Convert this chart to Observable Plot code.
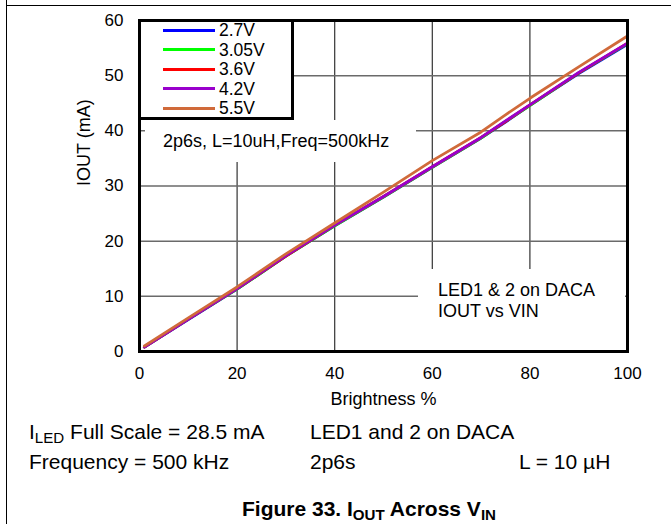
<!DOCTYPE html>
<html>
<head>
<meta charset="utf-8">
<script src="https://cdn.jsdelivr.net/npm/d3@7"></script>
<script src="https://cdn.jsdelivr.net/npm/@observablehq/plot@0.6"></script>
<style>
  html, body { margin: 0; padding: 0; background: #fff; }
  body { font-family: "Liberation Sans", Arial, sans-serif; color: #000; }
  #wrap { position: relative; width: 671px; height: 524px; overflow: hidden; }
  #chart { position: absolute; left: 0; top: 0; }
  .abs { position: absolute; white-space: nowrap; }
  .mask { position: absolute; background: #fff; }
  sub { font-size: 72%; vertical-align: -0.28em; line-height: 0; }
</style>
</head>
<body>
<div id="wrap">
  <div class="abs" style="left:5.75px;top:0;width:1.5px;height:524px;background:#000"></div>
  <div class="abs" style="left:6px;top:4.75px;width:665px;height:1.5px;background:#000"></div>
  <div id="chart"></div>
</div>
<script>
// ---- data ----
const brightness = [1, 10, 20, 30, 40, 50, 60, 70, 75, 80, 90, 100];
const seriesNames = ["2.7V", "3.05V", "3.6V", "4.2V", "5.5V"];
const seriesColors = ["#0000ff", "#00ff00", "#ff0000", "#9900cc", "#d06a3a"];
const iout_2_7V  = [0.8, 5.8, 11.3, 17.3, 22.8, 28.0, 33.4, 38.7, 41.6, 44.6, 50.4, 55.7];
const iout_3_05V = [0.8, 5.9, 11.3, 17.3, 22.8, 28.0, 33.4, 38.7, 41.7, 44.6, 50.5, 55.8];
const iout_3_6V  = [0.8, 5.9, 11.4, 17.3, 22.9, 28.1, 33.5, 38.8, 41.7, 44.7, 50.5, 55.9];
const iout_4_2V  = [0.8, 5.9, 11.4, 17.4, 22.9, 28.1, 33.5, 38.8, 41.8, 44.7, 50.6, 55.9];
const iout_5_5V  = [1.0, 6.1, 11.7, 17.7, 23.3, 28.9, 34.6, 39.8, 42.9, 45.9, 51.6, 57.2];
const xTicks = [0, 20, 40, 60, 80, 100];
const yTicks = [0, 10, 20, 30, 40, 50, 60];
const xLabel = "Brightness %";
const yLabel = "IOUT (mA)";
const note1 = "2p6s, L=10uH,Freq=500kHz";
const note2 = ["LED1 & 2 on DACA", "IOUT vs VIN"];

const seriesValues = [iout_2_7V, iout_3_05V, iout_3_6V, iout_4_2V, iout_5_5V];
const rows = [];
seriesNames.forEach((s, k) => {
  brightness.forEach((b, i) => rows.push({series: s, b, v: seriesValues[k][i]}));
});

const font = '"Liberation Sans", Arial, sans-serif';

const plot = Plot.plot({
  width: 671,
  height: 418,
  marginLeft: 139,
  marginRight: 44,
  marginTop: 20,
  marginBottom: 67,
  style: {fontFamily: font, fontSize: "17px", background: "transparent", color: "#000"},
  x: {domain: [0, 100], ticks: xTicks, tickSize: 0, tickPadding: 15, label: null},
  y: {domain: [0, 60], ticks: yTicks, tickSize: 0, tickPadding: 16, label: null},
  color: {domain: seriesNames, range: seriesColors},
  marks: [
    Plot.ruleX(xTicks.slice(1, -1), {stroke: "#333", strokeWidth: 1.2}),
    Plot.ruleY(yTicks.slice(1, -1), {stroke: "#6a6a6a", strokeWidth: 1.5}),
    Plot.line(rows, {x: "b", y: "v", z: "series", stroke: "series", strokeWidth: 2.8}),
    Plot.frame({stroke: "#000", strokeWidth: 3}),
    Plot.text([yLabel], {text: d => d, frameAnchor: "left", rotate: -90, dx: -55, fontSize: 18}),
    Plot.text([xLabel], {text: d => d, frameAnchor: "bottom", dy: 53, fontSize: 18})
  ]
});
const wrap = document.getElementById("wrap");
document.getElementById("chart").appendChild(plot);

function add(html, style, cls = "abs") {
  const d = document.createElement("div");
  d.className = cls;
  d.setAttribute("style", style);
  d.innerHTML = html;
  wrap.appendChild(d);
  return d;
}

// masks that break the gridlines behind the annotations
add("", "left:145px;top:120px;width:271px;height:41.5px", "mask");
add("", "left:418px;top:268.5px;width:207px;height:81px", "mask");

// annotations
add(note1, "left:163px;top:132px;font-size:18px;line-height:18px");
add(note2[0], "left:438px;top:281px;font-size:18px;line-height:18px");
add(note2[1], "left:438px;top:301.5px;font-size:18px;line-height:18px");

// legend
add("", "left:137.5px;top:18.5px;width:156px;height:101px;border:3px solid #000;box-sizing:border-box;background:#fff");
const rowY = [30, 49.6, 69.2, 88.8, 108.4];
seriesNames.forEach((s, i) => {
  add("", `left:163px;top:${rowY[i] - 1.5}px;width:52px;height:3px;background:${seriesColors[i]}`);
  add(s, `left:219px;top:${rowY[i] - 9}px;font-size:17.5px;line-height:18px`);
});

// caption lines under the chart
add("I<sub>LED</sub> Full Scale = 28.5 mA", "left:29px;top:421px;font-size:21px;line-height:21px");
add("LED1 and 2 on DACA", "left:310px;top:421px;font-size:21px;line-height:21px");
add("Frequency = 500 kHz", "left:29px;top:451px;font-size:21px;line-height:21px");
add("2p6s", "left:310px;top:451px;font-size:21px;line-height:21px");
add("L = 10 µH", "left:519px;top:451px;font-size:21px;line-height:21px");
add("Figure 33. I<sub>OUT</sub> Across V<sub>IN</sub>",
    "left:0;width:738px;text-align:center;top:498px;font-size:21px;line-height:21px;font-weight:bold");
</script>
</body>
</html>
